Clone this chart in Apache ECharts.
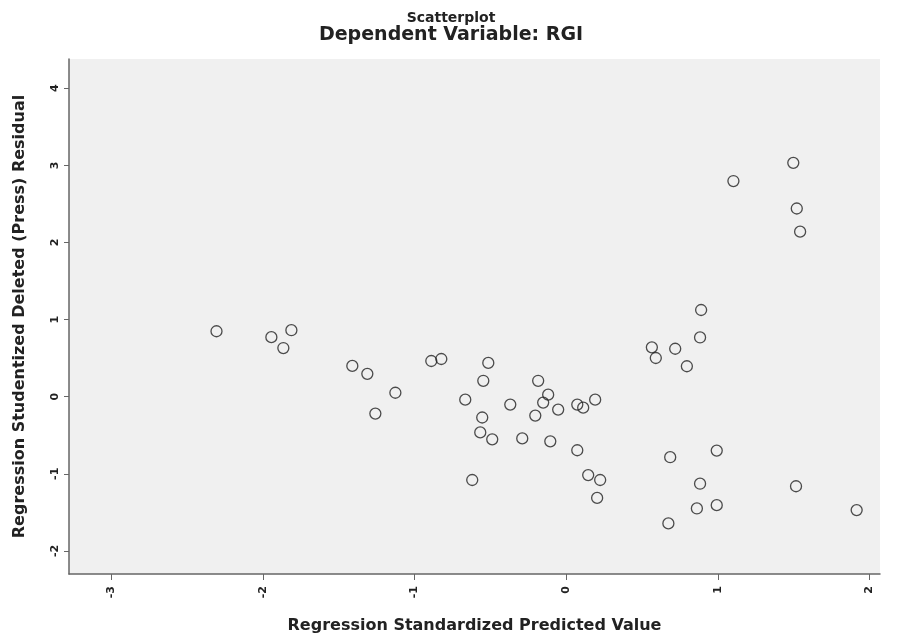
<!DOCTYPE html>
<html>
<head>
<meta charset="utf-8">
<script src="https://cdn.jsdelivr.net/npm/echarts@6/dist/echarts.min.js"></script>
<style>html,body{margin:0;padding:0;background:#fff}#c{width:902px;height:639px}</style>
</head>
<body>
<div id="c"></div>
<script>
const xTicks = [-3, -2, -1, 0, 1, 2];
const yTicks = [-2, -1, 0, 1, 2, 3, 4];
const predicted = [-2.307,-1.945,-1.813,-1.866,-1.411,-1.312,-1.259,-1.127,-0.890,-0.824,
  -0.666,-0.620,-0.554,-0.567,-0.488,-0.547,-0.514,-0.369,-0.290,-0.185,
  -0.119,-0.152,-0.204,-0.105,-0.053,0.073,0.112,0.191,0.073,0.145,
  0.224,0.204,0.565,0.591,0.719,0.796,0.890,0.883,0.686,0.993,
  0.883,0.862,0.993,0.674,1.103,1.498,1.521,1.543,1.516,1.916];
const residual = [0.849,0.772,0.862,0.631,0.399,0.296,-0.219,0.051,0.463,0.489,
  -0.039,-1.081,-0.270,-0.463,-0.553,0.206,0.438,-0.103,-0.541,0.206,
  0.026,-0.077,-0.245,-0.579,-0.167,-0.103,-0.142,-0.039,-0.695,-1.017,
  -1.081,-1.313,0.640,0.502,0.622,0.395,1.124,0.768,-0.785,-0.699,
  -1.129,-1.450,-1.407,-1.644,2.797,3.033,2.441,2.140,-1.162,-1.471];
const pts = predicted.map((v, i) => [v, residual[i]]);
const F = '"DejaVu Sans", sans-serif';
const chart = echarts.init(document.getElementById('c'));
chart.setOption({
  animation: false,
  backgroundColor: '#ffffff',
  title: [
    {text: 'Scatterplot', left: 'center', top: 6, textStyle: {fontFamily: F, fontSize: 14, fontWeight: 'bold', color: '#222'}},
    {text: 'Dependent Variable: RGI', left: 'center', top: 21, textStyle: {fontFamily: F, fontSize: 19, fontWeight: 'bold', color: '#222'}}
  ],
  grid: {left: 69, right: 22, top: 59, bottom: 61, show: true, backgroundColor: '#f0f0f0', borderWidth: 0},
  xAxis: {
    type: 'value', min: -3.28, max: 2.07,
    name: 'Regression Standardized Predicted Value', nameLocation: 'middle', nameGap: 44,
    nameTextStyle: {fontFamily: F, fontSize: 16, fontWeight: 'bold', color: '#222'},
    axisLine: {show: true, onZero: false, lineStyle: {color: '#666', width: 1.5}},
    axisTick: {show: true, length: 6, customValues: xTicks, lineStyle: {color: '#666'}},
    axisLabel: {customValues: xTicks, rotate: 90, fontFamily: F, fontSize: 11, fontWeight: 'bold', color: '#222', margin: 12},
    splitLine: {show: false}
  },
  yAxis: {
    type: 'value', min: -2.30, max: 4.38,
    name: 'Regression Studentized Deleted (Press) Residual', nameLocation: 'middle', nameGap: 41,
    nameTextStyle: {fontFamily: F, fontSize: 16, fontWeight: 'bold', color: '#222'},
    axisLine: {show: true, onZero: false, lineStyle: {color: '#666', width: 1.5}},
    axisTick: {show: true, length: 5, customValues: yTicks, lineStyle: {color: '#666'}},
    axisLabel: {customValues: yTicks, rotate: 90, fontFamily: F, fontSize: 11, fontWeight: 'bold', color: '#222', margin: 8},
    splitLine: {show: false}
  },
  series: [{
    type: 'scatter', data: pts, symbol: 'circle', symbolSize: 11,
    itemStyle: {color: 'rgba(0,0,0,0)', borderColor: '#222', borderWidth: 1.3}
  }]
});
</script>
</body>
</html>
